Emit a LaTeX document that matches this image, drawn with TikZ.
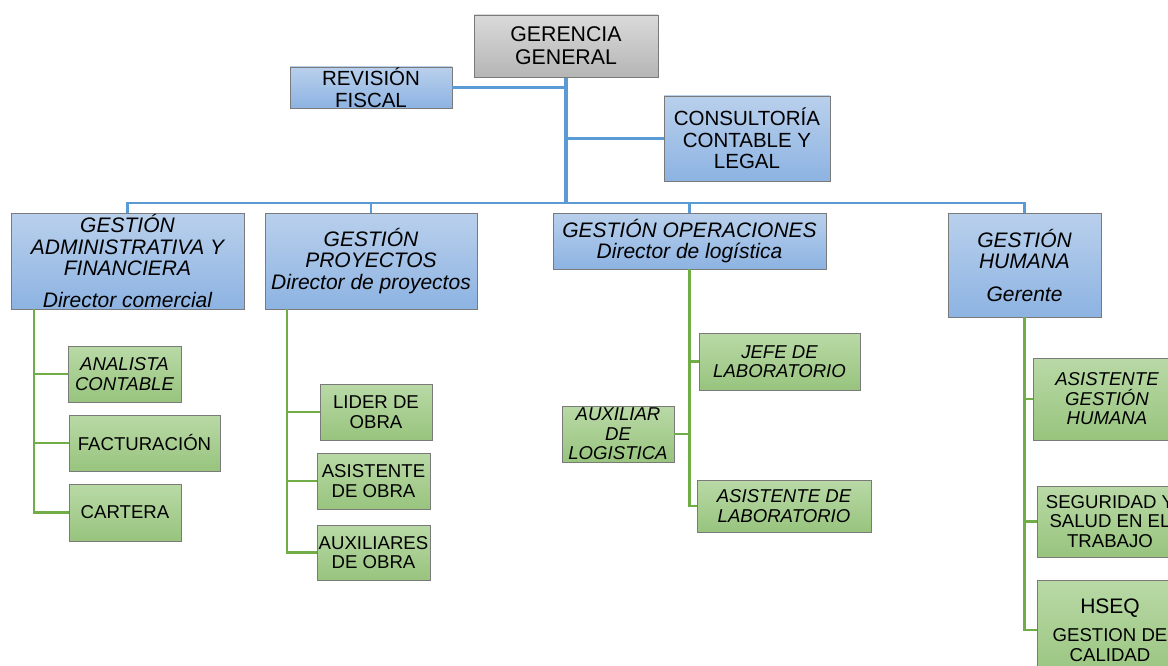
\documentclass[tikz,border=0pt]{standalone}
\usepackage{fontspec}
\setmainfont{Liberation Sans}
\definecolor{blueT}{HTML}{B9D0EC}
\definecolor{blueB}{HTML}{8DB3E2}
\definecolor{grayT}{HTML}{DADADA}
\definecolor{grayB}{HTML}{B5B5B5}
\definecolor{greenT}{HTML}{B9D9A6}
\definecolor{greenB}{HTML}{98C47E}
\definecolor{boxborder}{HTML}{7A7A7A}
\definecolor{bline}{HTML}{5B9BD5}
\definecolor{gline}{HTML}{70AD47}
\tikzset{
  box/.style={draw=boxborder, line width=0.9pt, inner sep=0pt, align=center, text=black},
  graybox/.style={box, top color=grayT, bottom color=grayB, font=\fontsize{21.3}{23}\selectfont},
  bluebox/.style={box, top color=blueT, bottom color=blueB, font=\fontsize{20.5}{21.5}\selectfont},
  gestbox/.style={box, top color=blueT, bottom color=blueB, font=\fontsize{21}{21.5}\selectfont\itshape},
  greenbox/.style={box, top color=greenT, bottom color=greenB, font=\fontsize{18.6}{19.5}\selectfont},
  greenit/.style={greenbox, font=\fontsize{18.6}{19.5}\selectfont\itshape},
  bluelink/.style={draw=bline, line width=2.2pt},
  trunklink/.style={draw=bline, line width=3.2pt},
  greenlink/.style={draw=gline, line width=2.8pt},
}
\begin{document}
\begin{tikzpicture}[x=1pt,y=-1pt]
\useasboundingbox (0,0) rectangle (1168,666);
\clip (0,0) rectangle (1168,666);
\fill[white] (0,0) rectangle (1168,666);

% coordinates for connector corners
\coordinate (bus) at (566,203);
\coordinate (g1s) at (34,309);
\coordinate (g2s) at (287,309);

% --- connectors (drawn first) ---
\path[trunklink] (566,77) coordinate (gerb) -- (bus);
\path[bluelink] (127.5,213) coordinate (g1t) -- (127.5,203) -- (1024.5,203) -- (1024.5,213) coordinate (g4t);
\path[bluelink] (371,203) -- (371,213);
\path[bluelink] (689.5,203) -- (689.5,213);

% --- boxes ---
\node[graybox, minimum width=184, minimum height=62] (ger) at (566,46) {GERENCIA\\GENERAL};
\node[bluebox, minimum width=162, minimum height=41] (rev) at (371,87.5) {REVISIÓN\\FISCAL};
\node[bluebox, minimum width=166, minimum height=85] (cons) at (747,138.5) {CONSULTORÍA\\CONTABLE Y\\LEGAL};

\node[gestbox, minimum width=233, minimum height=96] (g1) at (127.5,261) {GESTIÓN\\ADMINISTRATIVA Y\\FINANCIERA\\[10pt]Director comercial};
\node[gestbox, minimum width=212, minimum height=96] (g2) at (371,261) {GESTIÓN\\PROYECTOS\\Director de proyectos};
\node[gestbox, minimum width=273, minimum height=56] (g3) at (689.5,241) {GESTIÓN OPERACIONES\\Director de logística};
\node[gestbox, minimum width=153, minimum height=104] (g4) at (1024.5,265) {GESTIÓN\\HUMANA\\[11pt]Gerente};

% green children
\node[greenit, minimum width=113, minimum height=56] (an) at (124.5,374) {ANALISTA\\CONTABLE};
\node[greenbox, minimum width=151, minimum height=56] (fac) at (144.5,443) {FACTURACIÓN};
\node[greenbox, minimum width=112, minimum height=57] (car) at (125,512.5) {CARTERA};

\node[greenbox, minimum width=112, minimum height=56] (li) at (376,412) {LIDER DE\\OBRA};
\node[greenbox, minimum width=113, minimum height=56] (as) at (373.5,481) {ASISTENTE\\DE OBRA};
\node[greenbox, minimum width=113, minimum height=55] (au) at (373.5,552.5) {AUXILIARES\\DE OBRA};

\node[greenit, minimum width=161, minimum height=57] (jefe) at (779.5,361.5) {JEFE DE\\LABORATORIO};
\node[greenit, minimum width=112, minimum height=56] (aux) at (618,434) {AUXILIAR\\DE\\LOGISTICA};
\node[greenit, minimum width=174, minimum height=52] (asl) at (784,506) {ASISTENTE DE\\LABORATORIO};

\node[greenit, minimum width=148, minimum height=82] (agh) at (1107,399) {ASISTENTE\\GESTIÓN\\HUMANA};
\node[greenbox, minimum width=146, minimum height=71] (seg) at (1110,521.5) {SEGURIDAD Y\\SALUD EN EL\\TRABAJO};
\node[greenbox, minimum width=146, minimum height=100] (hseq) at (1110,630) {{\fontsize{21}{22}\selectfont HSEQ}\\[9pt]GESTION DE\\CALIDAD};

% --- connectors from boxes ---
\path[bluelink] (rev.east) -- (rev.east -| bus);
\path[bluelink] (cons.west) -- (cons.west -| bus);

\path[greenlink] (g1s) |- (car.west);
\path[greenlink] (g1s |- an.west) -- (an.west);
\path[greenlink] (g1s |- fac.west) -- (fac.west);

\path[greenlink] (g2s) |- (au.west);
\path[greenlink] (g2s |- li.west) -- (li.west);
\path[greenlink] (g2s |- as.west) -- (as.west);

\path[greenlink] (g3.south) |- (asl.west);
\path[greenlink] (g3.south |- jefe.west) -- (jefe.west);
\path[greenlink] (aux.east) -- (aux.east -| g3.south);

\path[greenlink] (g4.south) |- (hseq.west);
\path[greenlink] (g4.south |- agh.west) -- (agh.west);
\path[greenlink] (g4.south |- seg.west) -- (seg.west);
\end{tikzpicture}
\end{document}
